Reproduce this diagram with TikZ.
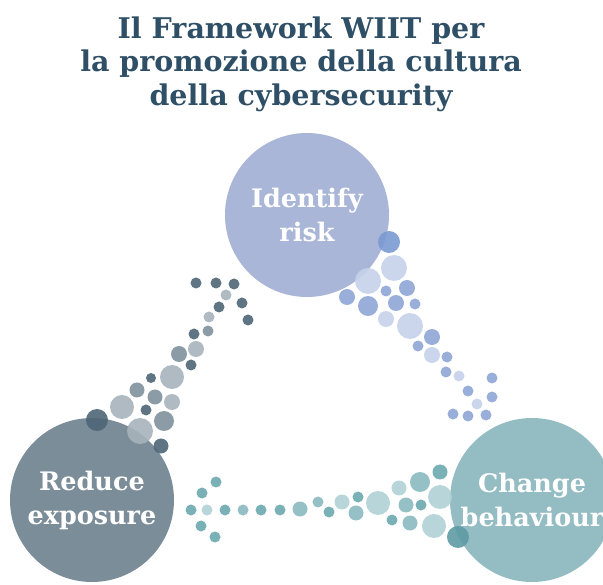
\documentclass[tikz,border=0pt]{standalone}
\usepackage{fontspec}
\setmainfont{DejaVu Serif}
\usetikzlibrary{positioning}

\definecolor{titleblue}{HTML}{2E4F66}
\definecolor{grayCirc}{HTML}{7B8D99}
\definecolor{grayDark}{HTML}{4E6676}
\definecolor{grayMid}{HTML}{7E919D}
\definecolor{grayLight}{HTML}{A7B3BB}
\definecolor{blueCirc}{HTML}{AAB6D7}
\definecolor{blueDark}{HTML}{7A9AD2}
\definecolor{blueMid}{HTML}{8EA6D6}
\definecolor{bluePale}{HTML}{C5D2EA}
\definecolor{tealCirc}{HTML}{93BCC3}
\definecolor{tealDark}{HTML}{5E9BA3}
\definecolor{tealMid}{HTML}{6BA8AF}
\definecolor{tealSoft}{HTML}{8AB9BF}
\definecolor{tealPale}{HTML}{B0D1D5}

\begin{document}
\begin{tikzpicture}[
    x=1pt, y=-1pt,
    % Styles
    stage/.style={circle, minimum size=164pt, inner sep=0pt, text=white, align=center, font=\fontsize{25.5}{34}\selectfont\bfseries},
    heading/.style={text=titleblue, align=center, font=\fontsize{28.5}{33.5}\selectfont\bfseries},
    dot/.style={fill opacity=0.9},
]

% Canvas
\useasboundingbox (0,0) rectangle (603,585);
\clip (0,0) rectangle (603,585);

% Title
\node[heading] (title) at (301,64) {Il Framework WIIT per\\la promozione della cultura\\della cybersecurity};

% The three stages
\node[stage, fill=blueCirc] (identify) at (307,215) {Identify\\risk};
\node[stage, fill=grayCirc] (reduce) at (92,500) {Reduce\\exposure};
\node[stage, fill=tealCirc] (change) at (532,500) {Change\\behaviour};

% Dotted arrow: identify -> change
\foreach \px/\py/\r/\c in {389/242/11/blueDark, 394/268/13/bluePale, 368/281/13/bluePale,
    407/288/8/blueMid, 347/297/8/blueMid, 386/291/5.5/blueMid, 396/303/8/blueMid,
    415/304/5.5/blueMid, 368/306/10/blueMid, 386/319/8/bluePale, 410/326/13/bluePale,
    432/337/8/blueMid, 418/346/5.5/blueMid, 432/355/8/bluePale, 447/357/5.5/blueMid,
    446/372/5.5/blueMid, 459/376/5.5/bluePale, 492/378/5.5/blueMid, 468/391/5.5/blueMid,
    492/397/5.5/blueMid, 477/404/5.5/bluePale, 453/414/5.5/blueMid, 468/416/5.5/blueMid,
    486/415/5.5/blueMid}
    \fill[dot, \c] (\px,\py) circle (\r pt);

% Dotted arrow: change -> reduce
\foreach \px/\py/\r/\c in {191/510/5.5/tealMid, 207/510/5.5/tealPale, 225/510/5.5/tealMid,
    243/510/5.5/tealSoft, 261/510/5.5/tealMid, 280/510/5.5/tealMid, 300/509/7.5/tealSoft,
    202/493/5.5/tealMid, 216/482/5.5/tealMid, 201/526/5.5/tealMid, 215/537/5.5/tealMid,
    318/502/5.5/tealSoft, 329/512/5.5/tealMid, 342/502/7.5/tealPale, 358/497/5.5/tealMid,
    356/513/7.5/tealSoft, 378/503/12/tealPale, 399/488/7.5/tealPale, 420/482/10/tealSoft,
    440/472/7.5/tealMid, 406/505/7.5/tealSoft, 421/505/5.5/tealMid, 392/520/5.5/tealMid,
    410/523/7.5/tealSoft, 440/497/12/tealPale, 434/526/12/tealPale, 458/537/11/tealDark}
    \fill[dot, \c] (\px,\py) circle (\r pt);

% Dotted arrow: reduce -> identify
\foreach \px/\py/\r/\c in {196/283/5.5/grayDark, 216/283/5.5/grayDark, 234/284/5.5/grayDark,
    226/295/5.5/grayLight, 242/303/5.5/grayDark, 219/307/5.5/grayDark, 248/320/5.5/grayDark,
    209/317/5.5/grayLight, 208/331/5.5/grayMid, 194/334/5.5/grayDark, 196/349/8/grayLight,
    179/354/8/grayMid, 191/365/5.5/grayDark, 172/377/12/grayLight, 151/378/5/grayDark,
    137/390/7.5/grayMid, 155/397/7.5/grayMid, 172/402/8/grayLight, 122/407/12/grayLight,
    146/410/5.5/grayDark, 97/420/11/grayDark, 164/421/10/grayMid, 140/431/13/grayLight,
    161/446/7.5/grayDark}
    \fill[dot, \c] (\px,\py) circle (\r pt);

\end{tikzpicture}
\end{document}
